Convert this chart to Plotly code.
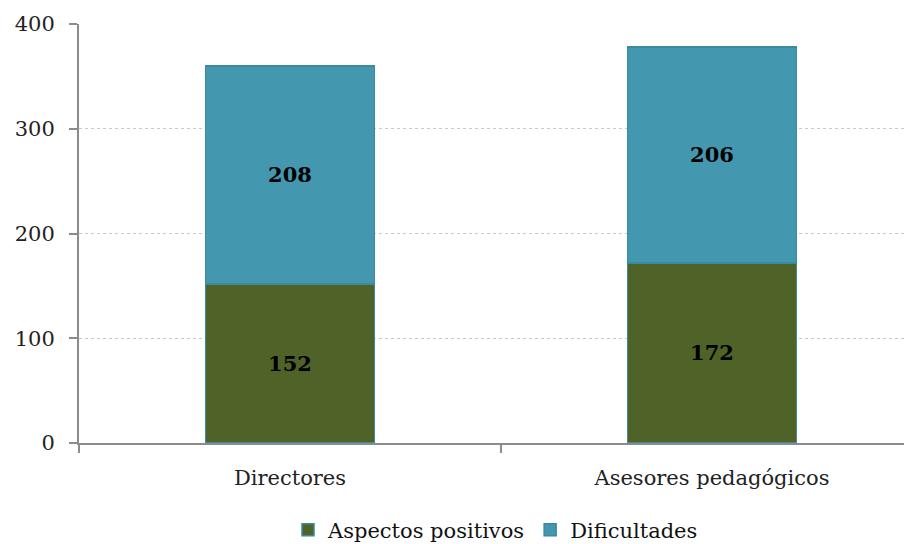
import plotly.graph_objects as go

categories = ["Directores", "Asesores pedagógicos"]
aspectos_positivos = [152, 172]
dificultades = [208, 206]
y_ticks = [0, 100, 200, 300, 400]

FONT = "DejaVu Serif"

fig = go.Figure()
fig.add_trace(go.Bar(
    name="Aspectos positivos", x=categories, y=aspectos_positivos,
    marker=dict(color="#4F6228", line=dict(color="#3A8AA0", width=1.5)),
    text=aspectos_positivos, textposition="inside", insidetextanchor="middle",
    textfont=dict(family=FONT, size=21, color="black", weight="bold"),
    width=0.4,
))
fig.add_trace(go.Bar(
    name="Dificultades", x=categories, y=dificultades,
    marker=dict(color="#4397AE", line=dict(color="#3A8AA0", width=1.5)),
    text=dificultades, textposition="inside", insidetextanchor="middle",
    textfont=dict(family=FONT, size=21, color="black", weight="bold"),
    width=0.4,
))

fig.update_layout(
    barmode="stack",
    width=904, height=536,
    margin=dict(l=71, r=0, t=16, b=101, autoexpand=False),
    paper_bgcolor="white", plot_bgcolor="white",
    font=dict(family=FONT, size=21, color="#222"),
    showlegend=True,
    legend=dict(orientation="h", x=0.5, xanchor="center",
                yref="container", y=0.026, yanchor="middle",
                font=dict(family=FONT, size=21, color="#111"),
                traceorder="normal", tracegroupgap=0),
    uniformtext=dict(mode="show", minsize=10),
)
fig.update_xaxes(
    range=[-0.5, 1.474], showline=True, linecolor="#8C8C8C", linewidth=2,
    ticks="outside", tickson="boundaries", ticklen=8, tickcolor="#8C8C8C", tickwidth=2,
    showgrid=False, tickfont=dict(family=FONT, size=21, color="#222"),
    ticklabelstandoff=15,
)
fig.update_yaxes(
    range=[0, 400], tickvals=y_ticks, showline=True, linecolor="#8C8C8C", linewidth=2,
    ticks="outside", ticklen=8, tickcolor="#8C8C8C", tickwidth=2,
    showgrid=True, gridcolor="#C8C8C8", griddash="dot", gridwidth=1,
    tickfont=dict(family=FONT, size=21, color="#222"), zeroline=False,
    ticklabelstandoff=10,
)

fig.write_html("out.html")
